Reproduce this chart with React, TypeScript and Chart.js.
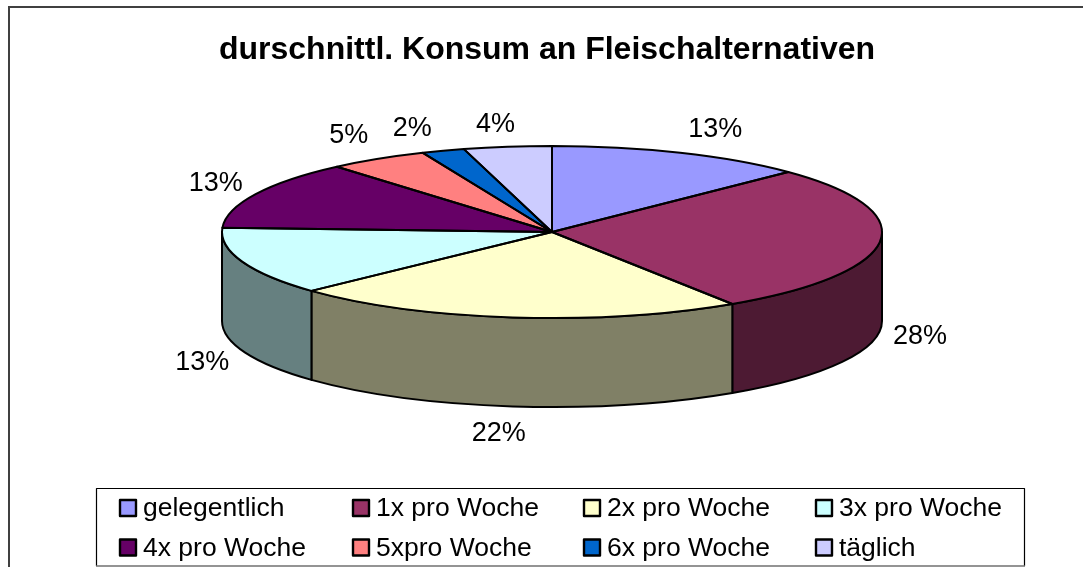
import React, { useEffect, useRef } from "react";
import { Chart, registerables } from "chart.js";

Chart.register(...registerables);

const titleText = "durschnittl. Konsum an Fleischalternativen";
const categories = ["gelegentlich", "1x pro Woche", "2x pro Woche", "3x pro Woche", "4x pro Woche", "5xpro Woche", "6x pro Woche", "täglich"];
const shares = [12.7, 28.1, 22.2, 12.8, 12.9, 4.9, 2.1, 4.3];
const topColors = ["#9999FF", "#993366", "#FFFFCC", "#CCFFFF", "#660066", "#FF8080", "#0066CC", "#CCCCFF"];
const sideColors = ["#4D4D80", "#4D1A33", "#808066", "#668080", "#330033", "#804040", "#003366", "#666680"];

const FONT = "'Liberation Sans', Arial, sans-serif";
const CX = 552, CY = 232, RX = 330, RY = 86, DEPTH = 89;
// label nudges relative to the projected rim point of each slice
const labelNudge: [number, number][] = [[35, -23], [40, 6], [-14, 27], [-40, 12], [-40, -11], [-29, -23], [-31, -22], [-12, -22]];
const legendCols = [120, 353, 584, 816];
const legendRows = [508, 547.5];

const pie3d = {
  id: "pie3d",
  beforeDraw(chart: any) {
    const { ctx } = chart;
    ctx.save();
    ctx.fillStyle = "#fff";
    ctx.fillRect(0, 0, chart.width, chart.height);
    ctx.strokeStyle = "#404040";
    ctx.lineWidth = 2;
    ctx.beginPath();
    ctx.moveTo(9, 567);
    ctx.lineTo(9, 7);
    ctx.lineTo(1083, 7);
    ctx.stroke();
    ctx.restore();
  },
  beforeDatasetsDraw(chart: any) {
    const { ctx } = chart;
    const arcs = chart.getDatasetMeta(0).data;
    ctx.save();
    ctx.strokeStyle = "#000";
    ctx.lineWidth = 2;
    ctx.lineJoin = "round";
    arcs.forEach((arc: any, i: number) => {
      const a0 = Math.max(arc.startAngle, 0);
      const a1 = Math.min(arc.endAngle, Math.PI);
      if (a1 <= a0) return;
      ctx.beginPath();
      ctx.ellipse(CX, CY, RX, RY, 0, a0, a1);
      ctx.ellipse(CX, CY + DEPTH, RX, RY, 0, a1, a0, true);
      ctx.closePath();
      ctx.fillStyle = sideColors[i];
      ctx.fill();
      ctx.stroke();
    });
    ctx.restore();
    const first = arcs[0];
    const R = first.outerRadius;
    ctx.save();
    ctx.translate(CX, CY);
    ctx.scale(RX / R, RY / R);
    ctx.translate(-first.x, -first.y);
  },
  afterDatasetsDraw(chart: any) {
    const { ctx } = chart;
    ctx.restore();
    const arcs = chart.getDatasetMeta(0).data;
    ctx.save();
    ctx.strokeStyle = "#000";
    ctx.lineWidth = 2;
    ctx.lineJoin = "round";
    arcs.forEach((arc: any) => {
      ctx.beginPath();
      ctx.moveTo(CX, CY);
      ctx.ellipse(CX, CY, RX, RY, 0, arc.startAngle, arc.endAngle);
      ctx.closePath();
      ctx.stroke();
    });
    const total = shares.reduce((s, v) => s + v, 0);
    ctx.fillStyle = "#000";
    ctx.font = `27px ${FONT}`;
    ctx.textAlign = "center";
    ctx.textBaseline = "middle";
    arcs.forEach((arc: any, i: number) => {
      const mid = (arc.startAngle + arc.endAngle) / 2;
      const front = Math.sin(mid) > 0.1 ? DEPTH : 0;
      const x = CX + RX * Math.cos(mid) + labelNudge[i][0];
      const y = CY + RY * Math.sin(mid) + front + labelNudge[i][1];
      ctx.fillText(`${Math.round((shares[i] / total) * 100)}%`, x, y);
    });
    // legend
    ctx.fillStyle = "#fff";
    ctx.fillRect(96, 488, 929, 78);
    ctx.strokeStyle = "#000";
    ctx.lineWidth = 1.2;
    ctx.beginPath();
    ctx.moveTo(96.5, 566);
    ctx.lineTo(96.5, 488.5);
    ctx.lineTo(1024.5, 488.5);
    ctx.lineTo(1024.5, 566);
    ctx.stroke();
    ctx.strokeStyle = "#707070";
    ctx.lineWidth = 1.5;
    ctx.beginPath();
    ctx.moveTo(96, 566);
    ctx.lineTo(1025, 566);
    ctx.stroke();
    ctx.font = `26.5px ${FONT}`;
    ctx.textAlign = "left";
    ctx.strokeStyle = "#000";
    ctx.lineWidth = 2.4;
    categories.forEach((label, i) => {
      const x = legendCols[i % 4];
      const y = legendRows[Math.floor(i / 4)];
      ctx.fillStyle = topColors[i];
      ctx.fillRect(x, y - 8, 16, 16);
      ctx.strokeRect(x, y - 8, 16, 16);
      ctx.fillStyle = "#000";
      ctx.fillText(label, x + 23, y + 1);
    });
    ctx.restore();
  },
};

export default function App() {
  const ref = useRef<HTMLCanvasElement>(null);
  useEffect(() => {
    const chart = new Chart(ref.current!, {
      type: "pie",
      data: {
        labels: categories,
        datasets: [{ data: shares, backgroundColor: topColors, borderWidth: 0, clip: false } as any],
      },
      options: {
        animation: false,
        responsive: false,
        layout: { padding: { left: 11 } },
        plugins: {
          legend: { display: false },
          tooltip: { enabled: false },
          title: {
            display: true,
            text: titleText,
            color: "#000",
            font: { family: FONT, size: 32, weight: "bold" },
            padding: { top: 31, bottom: 10 },
          },
        },
      },
      plugins: [pie3d],
    });
    return () => chart.destroy();
  }, []);
  return (
    <div style={{ position: "fixed", left: 0, top: 0, width: 1083, height: 567 }}>
      <canvas ref={ref} width={1083} height={567} style={{ display: "block" }} />
    </div>
  );
}
